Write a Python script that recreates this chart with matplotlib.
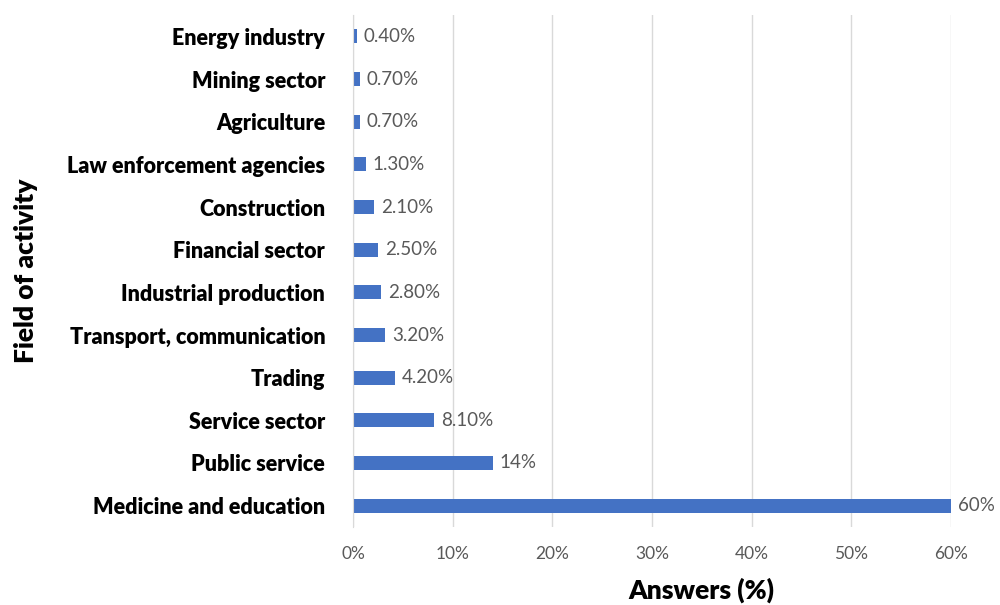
import matplotlib
matplotlib.use("Agg")
import matplotlib.pyplot as plt
from matplotlib.ticker import FuncFormatter

plt.rcParams['font.family'] = ['Lato', 'DejaVu Sans']

categories = [
    "Energy industry", "Mining sector", "Agriculture", "Law enforcement agencies",
    "Construction", "Financial sector", "Industrial production",
    "Transport, communication", "Trading", "Service sector", "Public service",
    "Medicine and education",
]
values = [0.4, 0.7, 0.7, 1.3, 2.1, 2.5, 2.8, 3.2, 4.2, 8.1, 14, 60]
value_labels = ["0.40%", "0.70%", "0.70%", "1.30%", "2.10%", "2.50%", "2.80%",
                "3.20%", "4.20%", "8.10%", "14%", "60%"]
x_ticks = [0, 10, 20, 30, 40, 50, 60]

bar_color = "#4472C4"
grid_color = "#D9D9D9"
text_grey = "#595959"

fig = plt.figure(figsize=(10, 6.05), dpi=100)
ax = fig.add_axes([0.353, 0.129, 0.598, 0.846])

y = list(range(len(categories)))
ax.barh(y, values, height=0.33, color=bar_color, zorder=3)
ax.set_ylim(len(categories) - 0.5, -0.5)
ax.set_xlim(0, 60)

for yi, v, lab in zip(y, values, value_labels):
    ax.annotate(lab, (v, yi), xytext=(5, 0), textcoords="offset points",
                va="center", ha="left", fontsize=13.5, color=text_grey)

ax.set_yticks(y)
ax.set_yticklabels(categories, fontsize=15.5, fontweight="heavy", color="black")
ax.set_xticks(x_ticks)
ax.xaxis.set_major_formatter(FuncFormatter(lambda v, p: f"{int(v)}%"))
ax.tick_params(axis="x", labelsize=12.5, labelcolor=text_grey, length=0, pad=14)
ax.tick_params(axis="y", length=0, pad=20)

ax.grid(axis="x", color=grid_color, linewidth=1, zorder=0)
for s in ["top", "right", "bottom"]:
    ax.spines[s].set_visible(False)
ax.spines["left"].set_color(grid_color)
ax.spines["left"].set_zorder(4)

fig.text(0.701, 0.024, "Answers (%)", ha="center", va="center",
         fontsize=19, fontweight="heavy")
fig.text(0.026, 0.553, "Field of activity", ha="center", va="center",
         rotation=90, fontsize=19, fontweight="heavy")

fig.savefig("out.png", dpi=100)
